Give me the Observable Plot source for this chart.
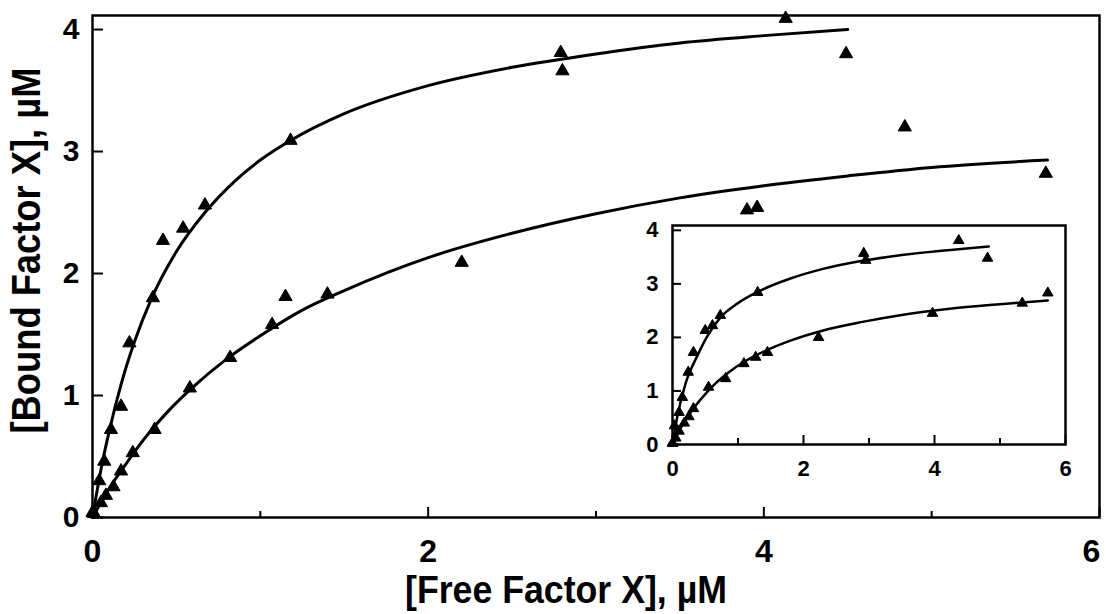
<!DOCTYPE html>
<html>
<head>
<meta charset="utf-8">
<script src="https://cdn.jsdelivr.net/npm/d3@7"></script>
<script src="https://cdn.jsdelivr.net/npm/@observablehq/plot@0.6"></script>
<style>
  html, body { margin: 0; padding: 0; background: white; }
  #wrap { position: relative; width: 1106px; height: 614px; }
  #inset { position: absolute; left: 620px; top: 215px; }
</style>
</head>
<body>
<div id="wrap"><div id="main"></div><div id="inset"></div></div>
<script>
// ---- Main panel: measured points ----
const upperX = [0.0, 0.04, 0.07, 0.11, 0.17, 0.22, 0.36, 0.42, 0.54, 0.67, 1.18, 2.79, 2.80, 4.13, 4.49, 4.84];
const upperY = [0.04, 0.30, 0.46, 0.72, 0.91, 1.43, 1.80, 2.27, 2.37, 2.56, 3.09, 3.81, 3.66, 4.09, 3.80, 3.20];
const lowerX = [0.01, 0.05, 0.08, 0.125, 0.17, 0.24, 0.37, 0.58, 0.82, 1.07, 1.15, 1.40, 2.20, 3.90, 3.96, 5.68];
const lowerY = [0.03, 0.12, 0.18, 0.25, 0.38, 0.53, 0.72, 1.06, 1.31, 1.58, 1.81, 1.83, 2.09, 2.52, 2.54, 2.82];
// ---- Main panel: fitted curves ----
const upperFitX = [0, 0.05, 0.1, 0.17, 0.25, 0.35, 0.5, 0.67, 0.85, 1.0, 1.18, 1.5, 2.0, 2.5, 3.0, 3.5, 4.0, 4.5];
const upperFitY = [0, 0.39, 0.71, 1.09, 1.44, 1.79, 2.18, 2.50, 2.76, 2.93, 3.09, 3.31, 3.54, 3.69, 3.80, 3.89, 3.95, 4.00];
const lowerFitX = [0, 0.1, 0.2, 0.3, 0.45, 0.6, 0.8, 1.0, 1.25, 1.5, 2.0, 2.5, 3.0, 3.5, 4.0, 4.5, 5.0, 5.69];
const lowerFitY = [0, 0.24, 0.44, 0.63, 0.87, 1.07, 1.30, 1.49, 1.70, 1.86, 2.13, 2.33, 2.49, 2.62, 2.72, 2.80, 2.87, 2.93];
// ---- Inset panel ----
const insetUpperX = [0.0, 0.03, 0.1, 0.15, 0.24, 0.32, 0.50, 0.61, 0.73, 1.30, 2.92, 2.95, 4.37, 4.81];
const insetUpperY = [0.03, 0.35, 0.60, 0.88, 1.35, 1.72, 2.13, 2.22, 2.41, 2.84, 3.57, 3.44, 3.81, 3.48];
const insetLowerX = [0.0, 0.05, 0.1, 0.18, 0.25, 0.32, 0.55, 0.81, 1.09, 1.27, 1.45, 2.23, 3.97, 5.34, 5.73];
const insetLowerY = [0.02, 0.12, 0.25, 0.40, 0.52, 0.67, 1.07, 1.23, 1.51, 1.63, 1.72, 2.00, 2.45, 2.64, 2.83];
const insetUpperFitX = [0, 0.07, 0.2, 0.38, 0.53, 0.73, 1.0, 1.3, 1.8, 2.3, 2.9, 3.5, 4.2, 4.83];
const insetUpperFitY = [0, 0.50, 1.14, 1.66, 2.02, 2.37, 2.64, 2.85, 3.10, 3.28, 3.43, 3.54, 3.63, 3.70];
const insetLowerFitX = [0, 0.1, 0.2, 0.3, 0.45, 0.63, 0.85, 1.1, 1.4, 1.8, 2.3, 2.9, 3.5, 4.2, 5.0, 5.73];
const insetLowerFitY = [0, 0.25, 0.46, 0.64, 0.87, 1.11, 1.34, 1.55, 1.74, 1.94, 2.13, 2.29, 2.42, 2.53, 2.62, 2.69];
// ---- Axis ticks and labels ----
const xMajorTicks = [0, 2, 4, 6];
const xMinorTicks = [1, 3, 5];
const xLabelTicks = [0, 2, 4];
const xLastLabel = [6];
const yTicks = [0, 1, 2, 3, 4];
const xTitle = "[Free Factor X], \u00B5M";
const yTitle = "[Bound Factor X], \u00B5M";

const zip = (xs, ys) => xs.map((x, i) => ({x, y: ys[i]}));
const font = "'Liberation Sans', Arial, Helvetica, sans-serif";

const main = Plot.plot({
  width: 1106, height: 614,
  marginLeft: 92, marginRight: 7, marginTop: 15, marginBottom: 97,
  x: {domain: [0, 6]},
  y: {domain: [0, 4.115]},
  style: {fontFamily: font, fontWeight: "bold", color: "black", background: "white"},
  marks: [
    Plot.axisX({ticks: xMajorTicks, tickSize: -10, fill: "none", strokeWidth: 2}),
    Plot.axisX({ticks: xMinorTicks, tickSize: -6, fill: "none", strokeWidth: 2}),
    Plot.axisX({ticks: xLabelTicks, tickSize: 0, tickPadding: 22, fontSize: 32, label: null, tickFormat: d3.format("d")}),
    Plot.axisX({ticks: xLastLabel, tickSize: 0, tickPadding: 22, dx: -8, fontSize: 32, label: null, tickFormat: d3.format("d")}),
    Plot.axisY({ticks: yTicks, tickSize: -11, fill: "none", strokeWidth: 2}),
    Plot.axisY({ticks: yTicks, tickSize: 0, tickPadding: 13, fontSize: 30, label: null, tickFormat: d3.format("d")}),
    Plot.line(zip(upperFitX, upperFitY), {x: "x", y: "y", stroke: "black", strokeWidth: 3, curve: "monotone-x"}),
    Plot.line(zip(lowerFitX, lowerFitY), {x: "x", y: "y", stroke: "black", strokeWidth: 3, curve: "monotone-x"}),
    Plot.dot(zip(upperX, upperY), {x: "x", y: "y", symbol: "triangle", r: 4.9, fill: "black", stroke: "black", strokeWidth: 1}),
    Plot.dot(zip(lowerX, lowerY), {x: "x", y: "y", symbol: "triangle", r: 4.9, fill: "black", stroke: "black", strokeWidth: 1}),
    Plot.frame({stroke: "black", strokeWidth: 2.5}),
    Plot.text([xTitle], {frameAnchor: "bottom", textAnchor: "middle", lineAnchor: "middle", dx: -30, dy: 73, fontSize: 38, fontWeight: "bold", fill: "black"}),
    Plot.text([yTitle], {frameAnchor: "left", textAnchor: "middle", lineAnchor: "middle", dx: -65, dy: -16, rotate: -90, fontSize: 40, fontWeight: "bold", fill: "black"})
  ]
});
document.getElementById("main").appendChild(main);

const inset = Plot.plot({
  width: 460, height: 270,
  marginLeft: 52, marginRight: 15, marginTop: 10, marginBottom: 41,
  x: {domain: [0, 6]},
  y: {domain: [0, 4.09]},
  style: {fontFamily: font, fontWeight: "bold", color: "black", background: "transparent", overflow: "visible"},
  marks: [
    Plot.frame({fill: "white", stroke: "none"}),
    Plot.axisX({ticks: xMajorTicks, tickSize: -9, fill: "none", strokeWidth: 2}),
    Plot.axisX({ticks: xMinorTicks, tickSize: -6, fill: "none", strokeWidth: 2}),
    Plot.axisX({ticks: xMajorTicks, tickSize: 0, tickPadding: 16, fontSize: 22, label: null, tickFormat: d3.format("d")}),
    Plot.axisY({ticks: yTicks, tickSize: -9, fill: "none", strokeWidth: 2}),
    Plot.axisY({ticks: yTicks, tickSize: 0, tickPadding: 14, fontSize: 22, label: null, tickFormat: d3.format("d")}),
    Plot.line(zip(insetUpperFitX, insetUpperFitY), {x: "x", y: "y", stroke: "black", strokeWidth: 2.5, curve: "monotone-x"}),
    Plot.line(zip(insetLowerFitX, insetLowerFitY), {x: "x", y: "y", stroke: "black", strokeWidth: 2.5, curve: "monotone-x"}),
    Plot.dot(zip(insetUpperX, insetUpperY), {x: "x", y: "y", symbol: "triangle", r: 3.9, fill: "black", stroke: "black", strokeWidth: 1}),
    Plot.dot(zip(insetLowerX, insetLowerY), {x: "x", y: "y", symbol: "triangle", r: 3.9, fill: "black", stroke: "black", strokeWidth: 1}),
    Plot.frame({stroke: "black", strokeWidth: 2.5})
  ]
});
document.getElementById("inset").appendChild(inset);

// condense the axis titles to the reference's narrow typeface width
const fit = (content, len) => {
  for (const t of main.querySelectorAll("text")) {
    if (t.textContent === content) {
      t.setAttribute("textLength", len);
      t.setAttribute("lengthAdjust", "spacingAndGlyphs");
    }
  }
};
fit(xTitle, 322);
fit(yTitle, 366);
</script>
</body>
</html>
